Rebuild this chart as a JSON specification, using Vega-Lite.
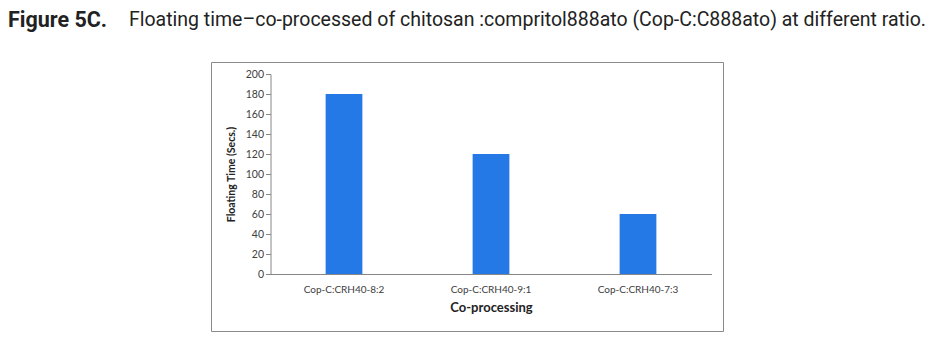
{
  "$schema": "https://vega.github.io/schema/vega-lite/v6.json",
  "autosize": {"type": "none"},
  "width": 512,
  "height": 269,
  "padding": {"left": 211, "top": 62, "right": 220, "bottom": 26},
  "background": "white",
  "title": {
    "text": "Figure 5C.",
    "subtitle": "\u200b\u00a0\u00a0\u00a0\u00a0\u00a0\u00a0\u00a0\u00a0\u00a0\u00a0\u00a0\u00a0\u00a0\u00a0\u00a0\u00a0\u00a0\u00a0\u00a0\u00a0\u00a0\u00a0\u00a0\u00a0\u00a0Floating time\u2013co-processed of chitosan :compritol888ato (Cop-C:C888ato) at different ratio.",
    "anchor": "start",
    "frame": "group",
    "dx": -203,
    "offset": 30,
    "font": "Roboto",
    "fontSize": 21.5,
    "fontWeight": "bold",
    "color": "#222222",
    "subtitleFont": "Roboto",
    "subtitleFontSize": 19.5,
    "subtitleColor": "#222222",
    "subtitleFontWeight": "normal",
    "subtitlePadding": -21
  },
  "config": {
    "view": {"stroke": "#8a8a8a", "strokeWidth": 1},
    "axis": {"grid": false}
  },
  "data": {
    "values": [
      {"group": "Cop-C:CRH40-8:2", "time": 180},
      {"group": "Cop-C:CRH40-9:1", "time": 120},
      {"group": "Cop-C:CRH40-7:3", "time": 60}
    ]
  },
  "mark": {"type": "bar", "color": "#2479E6"},
  "encoding": {
    "x": {
      "field": "group",
      "type": "nominal",
      "sort": null,
      "scale": {"range": [59.5, 500.5], "paddingInner": 0.75, "paddingOuter": 0.375},
      "axis": {
        "title": "Co-processing",
        "offset": -57,
        "ticks": false,
        "labelAngle": 0,
        "labelPadding": 10,
        "labelFont": "Lato",
        "labelFontSize": 10,
        "labelColor": "#404040",
        "domainColor": "#868686",
        "titleFont": "Lato",
        "titleFontSize": 13,
        "titleFontWeight": "bold",
        "titleColor": "#222222",
        "titlePadding": 7
      }
    },
    "y": {
      "field": "time",
      "type": "quantitative",
      "scale": {"domain": [0, 200], "range": [212, 12], "nice": false},
      "axis": {
        "title": "Floating Time (Secs.)",
        "offset": -59.5,
        "values": [0, 20, 40, 60, 80, 100, 120, 140, 160, 180, 200],
        "tickSize": 5,
        "tickColor": "#868686",
        "domainColor": "#868686",
        "labelPadding": 2,
        "labelFont": "Lato",
        "labelFontSize": 10.5,
        "labelColor": "#404040",
        "titleFont": "Lato",
        "titleFontSize": 10.5,
        "titleFontWeight": "bold",
        "titleColor": "#222222",
        "titlePadding": 9
      }
    }
  }
}
